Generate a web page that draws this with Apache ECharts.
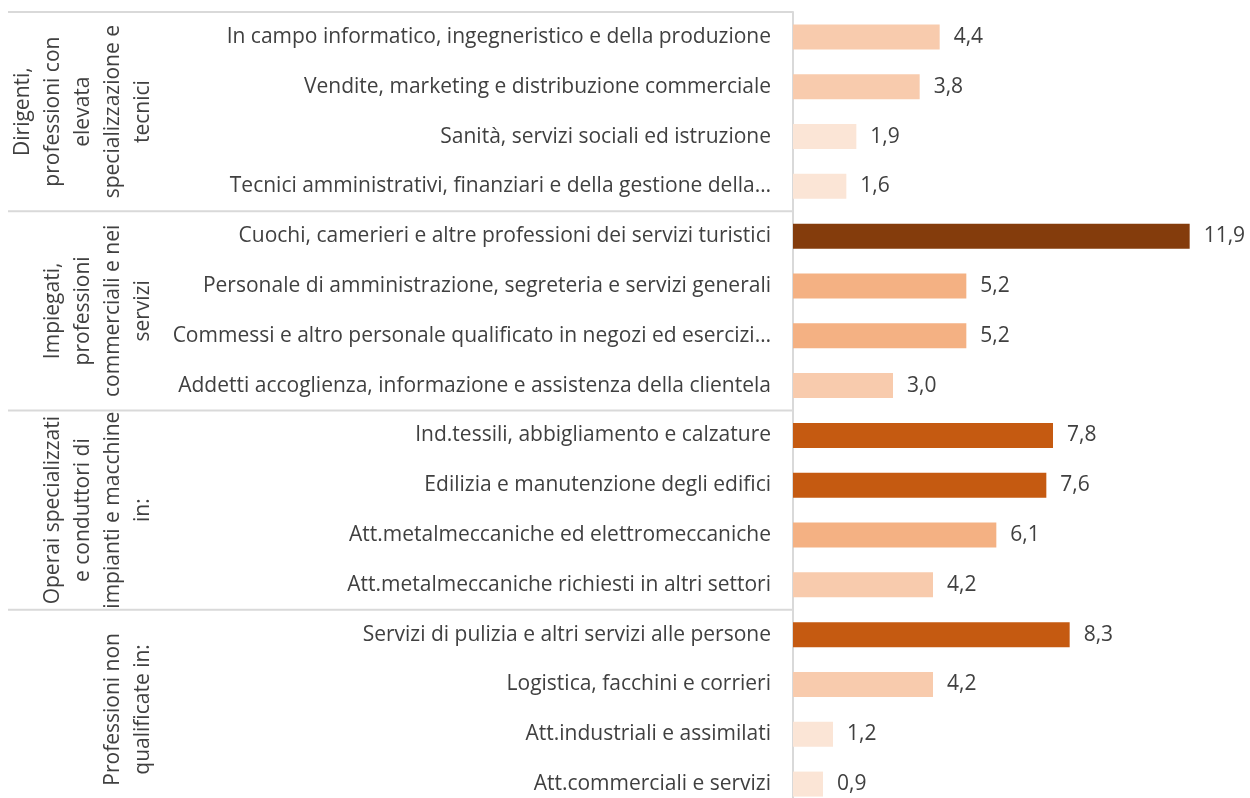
<!DOCTYPE html>
<html>
<head>
<meta charset="utf-8">
<script src="https://cdn.jsdelivr.net/npm/echarts@6/dist/echarts.min.js"></script>
<style>
  html, body { margin: 0; padding: 0; background: #fff; }
  #main { width: 1250px; height: 798px; }
</style>
</head>
<body>
<div id="main"></div>
<script>
// categorie (dall'alto verso il basso)
const categories = [
  "In campo informatico, ingegneristico e della produzione",
  "Vendite, marketing e distribuzione commerciale",
  "Sanità, servizi sociali ed istruzione",
  "Tecnici amministrativi, finanziari e della gestione della…",
  "Cuochi, camerieri e altre professioni dei servizi turistici",
  "Personale di amministrazione, segreteria e servizi generali",
  "Commessi e altro personale qualificato in negozi ed esercizi…",
  "Addetti accoglienza, informazione e assistenza della clientela",
  "Ind.tessili, abbigliamento e calzature",
  "Edilizia e manutenzione degli edifici",
  "Att.metalmeccaniche ed elettromeccaniche",
  "Att.metalmeccaniche richiesti in altri settori",
  "Servizi di pulizia e altri servizi alle persone",
  "Logistica, facchini e corrieri",
  "Att.industriali e assimilati",
  "Att.commerciali e servizi"
];
const values = [4.4, 3.8, 1.9, 1.6, 11.9, 5.2, 5.2, 3.0, 7.8, 7.6, 6.1, 4.2, 8.3, 4.2, 1.2, 0.9];

// gruppi: etichetta e numero di righe
const groupLabels = [
  "Dirigenti,\nprofessioni con\nelevata\nspecializzazione e\ntecnici",
  "Impiegati,\nprofessioni\ncommerciali e nei\nservizi",
  "Operai specializzati\ne conduttori di\nimpianti e macchine\nin:",
  "Professioni non\nqualificate in:"
];
const groupSizes = [4, 4, 4, 4];

const FONT = "Open Sans";
const FSIZE = 21;
const TEXT = "#404040";
const LINE = "#d9d9d9";

function barColor(v) {
  if (v >= 10) return "#843c0c";
  if (v >= 7) return "#c55a11";
  if (v >= 5) return "#f4b183";
  if (v >= 2.5) return "#f8cbad";
  return "#fbe5d6";
}

var chartDom = document.getElementById("main");
var myChart = echarts.init(chartDom);

var option = {
  animation: false,
  grid: { left: 793, top: 12, width: 400, height: 797, outerBoundsMode: "none" },
  xAxis: {
    type: "value",
    min: 0,
    max: 12,
    show: false
  },
  yAxis: {
    type: "category",
    inverse: true,
    data: categories,
    axisLine: { show: true, lineStyle: { color: LINE, width: 2 } },
    axisTick: { show: false },
    axisLabel: {
      margin: 22,
      color: TEXT,
      fontFamily: FONT,
      fontSize: FSIZE
    }
  },
  series: [
    {
      type: "bar",
      barWidth: 25,
      data: values.map((v) => ({ value: v, itemStyle: { color: barColor(v) } })),
      label: {
        show: true,
        position: "right",
        distance: 14,
        color: TEXT,
        fontFamily: FONT,
        fontSize: FSIZE,
        formatter: (p) => p.value.toFixed(1).replace(".", ",")
      }
    }
  ]
};
myChart.setOption(option);

// separatori e etichette dei gruppi, posizionati dalla scala dell'asse
function drawGroups() {
  var elements = [];
  var axisX = myChart.convertToPixel({ gridIndex: 0 }, [0, 0])[0];
  var bandH = myChart.convertToPixel({ yAxisIndex: 0 }, 1) - myChart.convertToPixel({ yAxisIndex: 0 }, 0);
  var start = 0;
  groupLabels.forEach((label, gi) => {
    var first = myChart.convertToPixel({ yAxisIndex: 0 }, start);
    var last = myChart.convertToPixel({ yAxisIndex: 0 }, start + groupSizes[gi] - 1);
    var top = first - bandH / 2;
    var mid = (first + last) / 2;
    elements.push({
      type: "line",
      shape: { x1: 8, y1: top, x2: axisX, y2: top },
      style: { stroke: LINE, lineWidth: 2 }
    });
    elements.push({
      type: "text",
      x: 158,
      y: mid,
      rotation: Math.PI / 2,
      style: {
        text: label,
        fill: TEXT,
        font: FSIZE + "px '" + FONT + "'",
        lineHeight: 30,
        align: "center",
        verticalAlign: "bottom"
      }
    });
    start += groupSizes[gi];
  });
  myChart.setOption({ graphic: elements });
}
drawGroups();
</script>
</body>
</html>
